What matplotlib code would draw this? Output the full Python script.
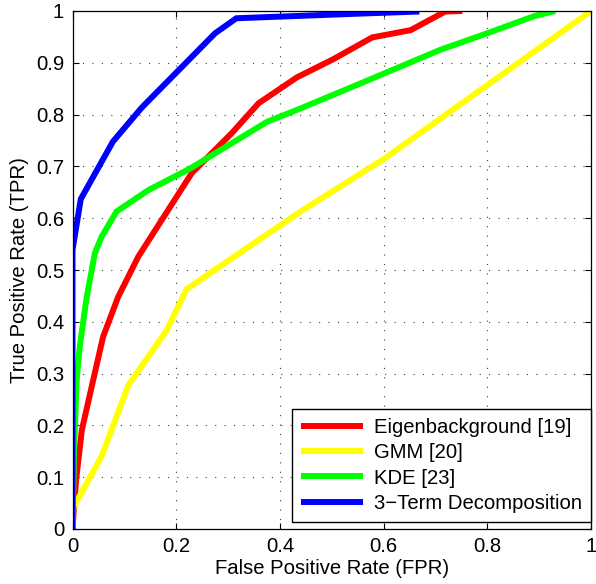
import matplotlib
matplotlib.use("Agg")
import matplotlib.pyplot as plt
from matplotlib.ticker import FixedLocator, FuncFormatter

plt.rcParams['font.family'] = ['Liberation Sans', 'DejaVu Sans']

labels = ["Eigenbackground [19]", "GMM [20]", "KDE [23]", "3\u2212Term Decomposition"]
colors = ["#ff0000", "#ffff00", "#00ff00", "#0000ff"]

eig_fpr = [0.0, 0.007, 0.018, 0.040, 0.059, 0.088, 0.127, 0.230, 0.307, 0.359, 0.433, 0.503, 0.578, 0.652, 0.719, 0.752]
eig_tpr = [0.0, 0.095, 0.191, 0.288, 0.371, 0.448, 0.526, 0.687, 0.764, 0.822, 0.872, 0.907, 0.949, 0.963, 0.999, 1.0]

gmm_fpr = [0.0, 0.002, 0.024, 0.056, 0.108, 0.182, 0.220, 0.440, 0.600, 1.0]
gmm_tpr = [0.0, 0.043, 0.082, 0.140, 0.278, 0.384, 0.463, 0.613, 0.714, 1.0]

kde_fpr = [0.0, 0.003, 0.008, 0.014, 0.027, 0.043, 0.056, 0.085, 0.146, 0.227, 0.375, 0.440, 0.555, 0.709, 0.800, 0.890, 0.931]
kde_tpr = [0.0, 0.150, 0.288, 0.352, 0.445, 0.532, 0.564, 0.613, 0.654, 0.696, 0.786, 0.812, 0.860, 0.925, 0.957, 0.990, 1.0]

tdec_fpr = [0.0, 0.0, 0.016, 0.078, 0.134, 0.275, 0.316, 0.555, 0.669]
tdec_tpr = [0.0, 0.539, 0.637, 0.748, 0.814, 0.957, 0.986, 0.995, 0.999]

xticks = [0, 0.2, 0.4, 0.6, 0.8, 1.0]
yticks = [0, 0.1, 0.2, 0.3, 0.4, 0.5, 0.6, 0.7, 0.8, 0.9, 1.0]

FS = 14.6

fig = plt.figure(figsize=(5.96, 5.84), dpi=100)
ax = fig.add_axes([72.5/596, 1 - 529/584, (591 - 72.5)/596, (529 - 11)/584])

series = [(eig_fpr, eig_tpr), (gmm_fpr, gmm_tpr), (kde_fpr, kde_tpr), (tdec_fpr, tdec_tpr)]
for (x, y), c, l in zip(series, colors, labels):
    ax.plot(x, y, color=c, lw=4.3, label=l, solid_joinstyle='miter', solid_capstyle='butt')

ax.set_xlim(0, 1)
ax.set_ylim(0, 1)
ax.xaxis.set_major_locator(FixedLocator(xticks))
ax.yaxis.set_major_locator(FixedLocator(yticks))
fmt = FuncFormatter(lambda v, p: ("%g" % round(v, 2)))
ax.xaxis.set_major_formatter(fmt)
ax.yaxis.set_major_formatter(fmt)
ax.tick_params(direction='in', length=4, width=0.8, top=True, right=True, labelsize=FS, pad=6, colors='black')
ax.grid(True, color='#404040', linestyle=(0, (1, 7.5)), linewidth=0.8)
for s in ax.spines.values():
    s.set_linewidth(0.9)

ax.set_xlabel("False Positive Rate (FPR)", fontsize=FS, labelpad=2)
ax.set_ylabel("True Positive Rate (TPR)", fontsize=FS, labelpad=5)

leg = ax.legend(loc='lower right', bbox_to_anchor=(1.0, 0.014), borderaxespad=0, fontsize=FS,
                handlelength=3.05, labelspacing=0.3, handletextpad=0.55, borderpad=0.45,
                fancybox=False, edgecolor='black', framealpha=1)
leg.get_frame().set_linewidth(1.0)

fig.savefig("out.png", dpi=100)
